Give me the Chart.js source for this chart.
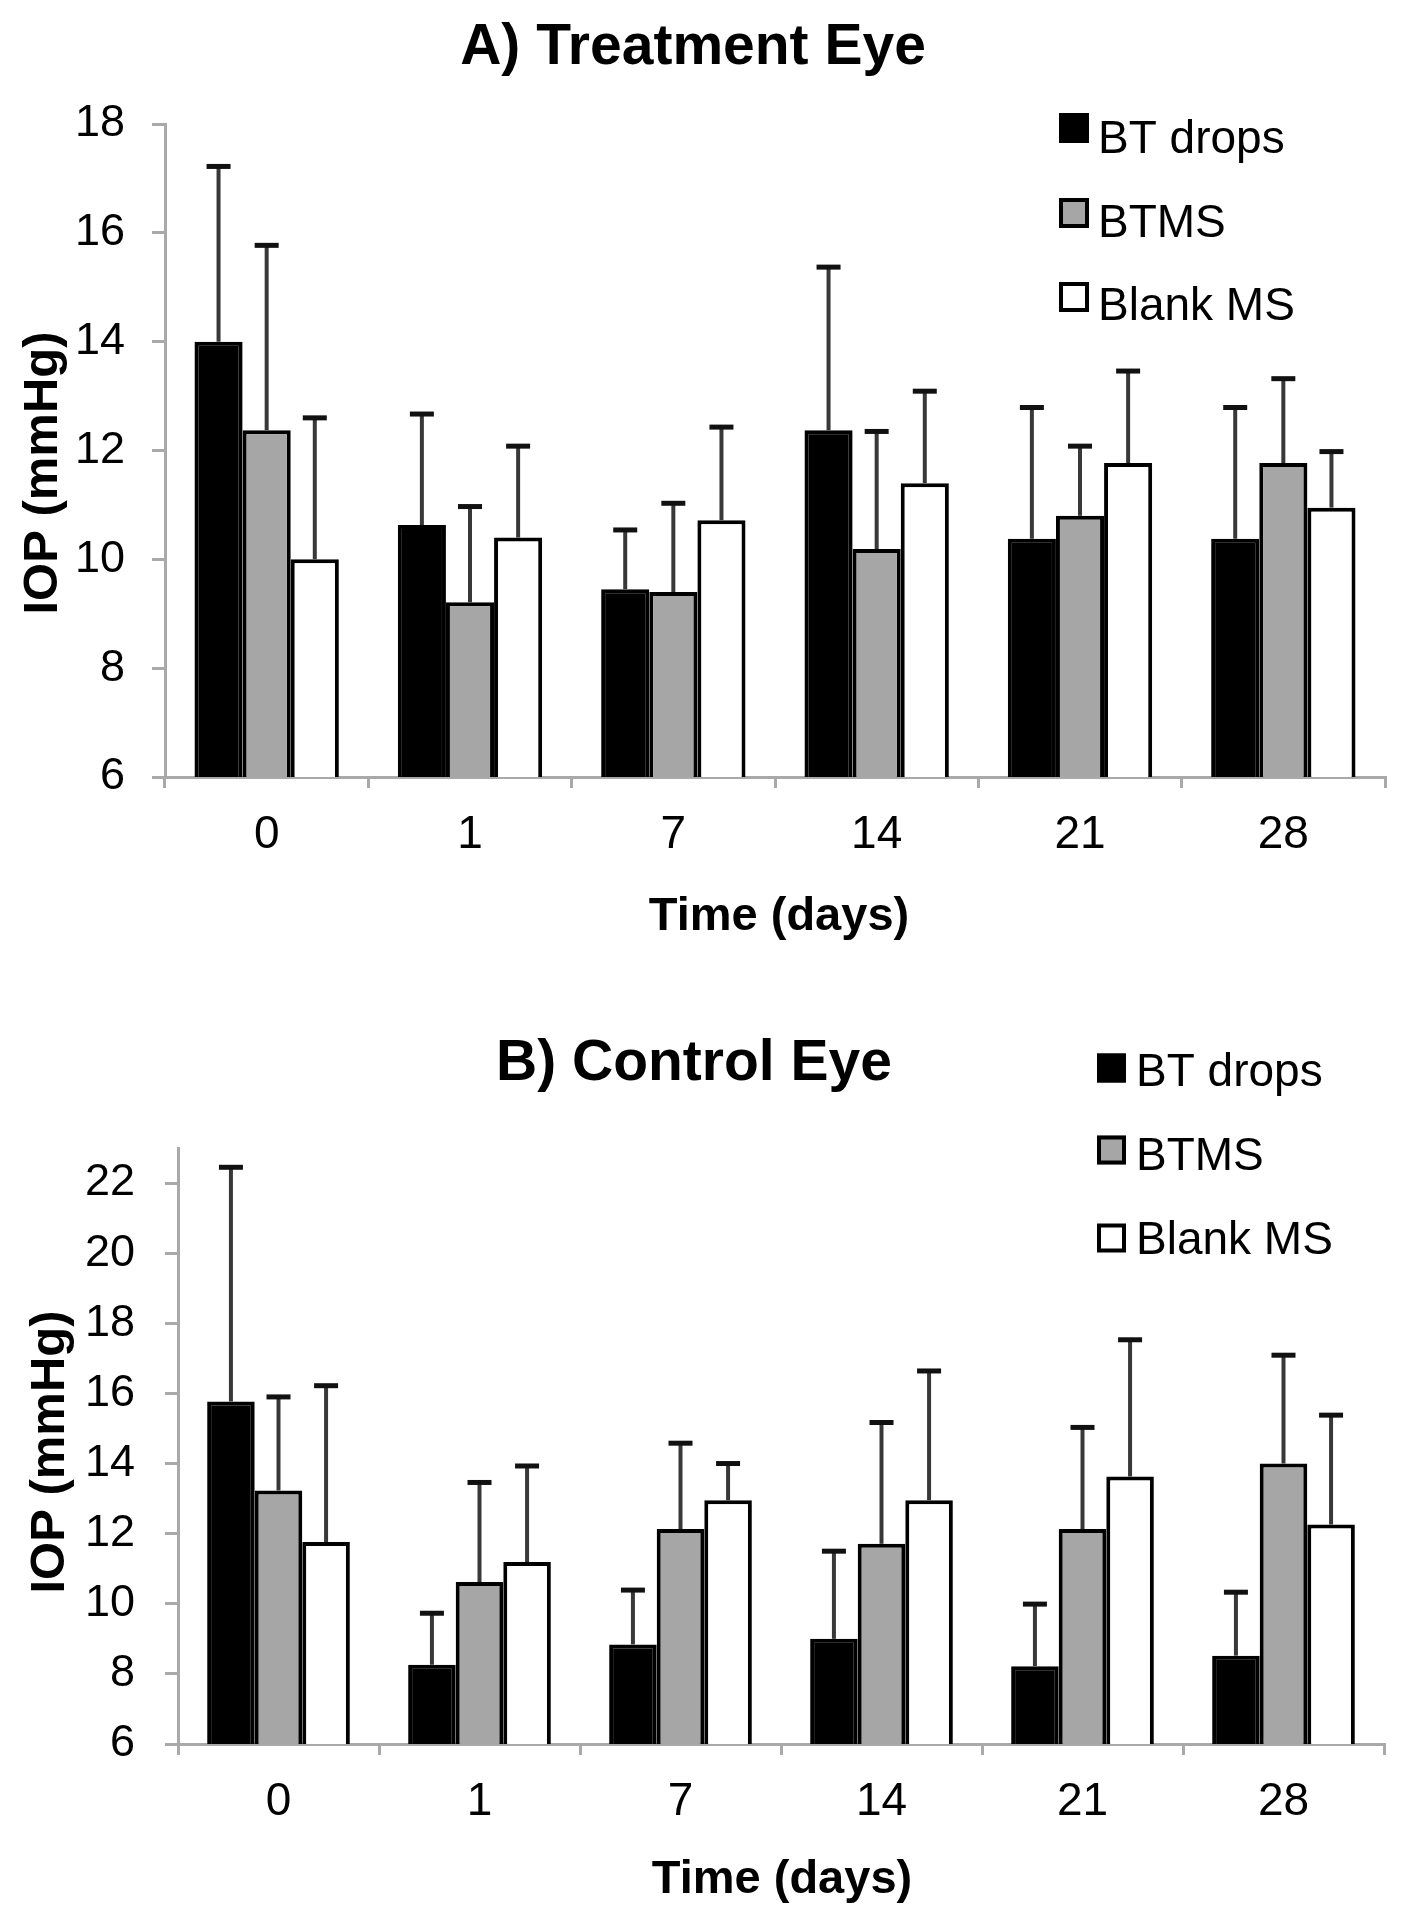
<!DOCTYPE html>
<html><head><meta charset="utf-8">
<script src="https://cdn.jsdelivr.net/npm/chart.js@4.4.1/dist/chart.umd.min.js"></script>
<style>
html,body{margin:0;padding:0;background:#fff;}
canvas{display:block;}
</style></head><body>
<canvas id="cA" width="1404" height="960"></canvas>
<canvas id="cB" width="1404" height="960"></canvas>
<script>
// ---- data ----
const categories = ['0', '1', '7', '14', '21', '28'];
const seriesNames = ['BT drops', 'BTMS', 'Blank MS'];

// A) Treatment Eye: means and upper SD
const btDropsA   = [14.0, 10.63, 9.45, 12.37, 10.38, 10.38];
const btmsA      = [12.37, 9.21, 9.4, 10.19, 10.8, 11.77];
const blankA     = [10.0, 10.4, 10.72, 11.4, 11.77, 10.95];
const btDropsASd = [3.22, 2.04, 1.09, 3.0, 2.41, 2.41];
const btmsASd    = [3.4, 1.76, 1.63, 2.16, 1.28, 1.55];
const blankASd   = [2.6, 1.68, 1.71, 1.69, 1.69, 1.03];

// B) Control Eye: means and upper SD
const btDropsB   = [15.77, 8.26, 8.84, 9.0, 8.22, 8.52];
const btmsB      = [13.23, 10.62, 12.13, 11.71, 12.13, 14.0];
const blankB     = [11.76, 11.19, 12.95, 12.95, 13.63, 12.26];
const btDropsBSd = [6.68, 1.47, 1.55, 2.5, 1.77, 1.81];
const btmsBSd    = [2.67, 2.84, 2.45, 3.46, 2.9, 3.09];
const blankBSd   = [4.46, 2.74, 1.05, 3.69, 3.9, 3.12];

const yTicksA = {min: 6, max: 18, step: 2};
const yTicksB = {min: 6, max: 23, step: 2};

// ---- styling ----
const FONT = '"Liberation Sans", Arial, Helvetica, sans-serif';
const fills = ['#000000', '#a6a6a6', '#ffffff'];
const axisGray = '#a9a9a9';

const annotate = {
  id: 'annotate',
  afterDatasetsDraw(chart) {
    const ctx = chart.ctx, ys = chart.scales.y;
    chart.data.datasets.forEach((ds, i) => {
      chart.getDatasetMeta(i).data.forEach((bar, j) => {
        const y0 = ys.getPixelForValue(ds.data[j]);
        const y1 = ys.getPixelForValue(ds.data[j] + ds.sd[j]);
        ctx.save();
        ctx.strokeStyle = '#383838'; ctx.lineWidth = 4;
        ctx.beginPath(); ctx.moveTo(bar.x, y0); ctx.lineTo(bar.x, y1); ctx.stroke();
        ctx.strokeStyle = '#111'; ctx.lineWidth = 5;
        ctx.beginPath(); ctx.moveTo(bar.x - 12, y1); ctx.lineTo(bar.x + 12, y1); ctx.stroke();
        ctx.restore();
      });
    });
  },
  afterDraw(chart, args, o) {
    const ctx = chart.ctx;
    ctx.save();
    ctx.fillStyle = '#000';
    ctx.font = 'bold 57px ' + FONT;
    ctx.textAlign = 'center'; ctx.textBaseline = 'alphabetic';
    ctx.fillText(o.title, o.titleX, o.titleY);
    ctx.font = 'bold 47px ' + FONT;
    ctx.fillText('Time (days)', o.xTitleX, o.xTitleY);
    ctx.save();
    ctx.translate(o.yTitleX, o.yTitleY);
    ctx.rotate(-Math.PI / 2);
    ctx.font = 'bold 49px ' + FONT;
    ctx.fillText('IOP (mmHg)', 0, 0);
    ctx.restore();
    ctx.textAlign = 'left';
    ctx.font = '46px ' + FONT;
    chart.data.datasets.forEach((ds, i) => {
      const cy = o.legRows[i];
      const s = o.legBox;
      ctx.fillStyle = ds.backgroundColor;
      ctx.fillRect(o.legX, cy - s / 2, s, s);
      ctx.strokeStyle = '#000'; ctx.lineWidth = 4;
      ctx.strokeRect(o.legX + 2, cy - s / 2 + 2, s - 4, s - 4);
      ctx.fillStyle = '#000';
      ctx.fillText(ds.label, o.legTextX, o.legBase[i]);
    });
    ctx.restore();
  }
};

function makeChart(id, series, sds, yt, lay, ann) {
  const datasets = series.map((d, i) => ({
    label: seriesNames[i],
    data: d,
    sd: sds[i],
    backgroundColor: fills[i],
    borderColor: '#000',
    borderWidth: 4,
    categoryPercentage: 0.71,
    barPercentage: 1.0
  }));
  return new Chart(document.getElementById(id), {
    type: 'bar',
    data: { labels: categories, datasets },
    plugins: [annotate],
    options: {
      responsive: false,
      animation: false,
      events: [],
      layout: { padding: { top: lay.top, right: lay.right, left: 0, bottom: 0 } },
      plugins: {
        legend: { display: false },
        tooltip: { enabled: false },
        title: { display: false },
        annotate: ann
      },
      scales: {
        x: {
          ticks: { color: '#000', padding: 20, font: { family: FONT, size: 46 } },
          grid: { display: true, drawOnChartArea: false, drawTicks: true, tickLength: 11,
                  color: axisGray, lineWidth: 3, offset: true },
          border: { display: true, color: axisGray, width: 3 },
          afterFit(s) { s.height = lay.xh; }
        },
        y: {
          min: yt.min, max: yt.max,
          ticks: { stepSize: yt.step, includeBounds: false, color: '#000', padding: lay.ypad,
                   font: { family: FONT, size: 45 } },
          grid: { display: true, drawOnChartArea: false, drawTicks: true, tickLength: 13,
                  color: axisGray, lineWidth: 3 },
          border: { display: true, color: axisGray, width: 3 },
          afterFit(s) { s.width = lay.left; }
        }
      }
    }
  });
}

makeChart('cA', [btDropsA, btmsA, blankA], [btDropsASd, btmsASd, blankASd], yTicksA,
  { top: 124, right: 19, left: 165, xh: 183, ypad: 27 },
  { title: 'A) Treatment Eye', titleX: 693, titleY: 64,
    xTitleX: 779, xTitleY: 930, yTitleX: 57, yTitleY: 473,
    legX: 1059, legBox: 30, legTextX: 1098, legRows: [128, 213, 297], legBase: [153, 237, 320] });

makeChart('cB', [btDropsB, btmsB, blankB], [btDropsBSd, btmsBSd, blankBSd], yTicksB,
  { top: 188, right: 20, left: 178, xh: 176, ypad: 30 },
  { title: 'B) Control Eye', titleX: 694, titleY: 120,
    xTitleX: 782, xTitleY: 933, yTitleX: 64, yTitleY: 492,
    legX: 1097, legBox: 29, legTextX: 1136, legRows: [108, 190, 278], legBase: [126, 210, 294] });
</script>
</body></html>
